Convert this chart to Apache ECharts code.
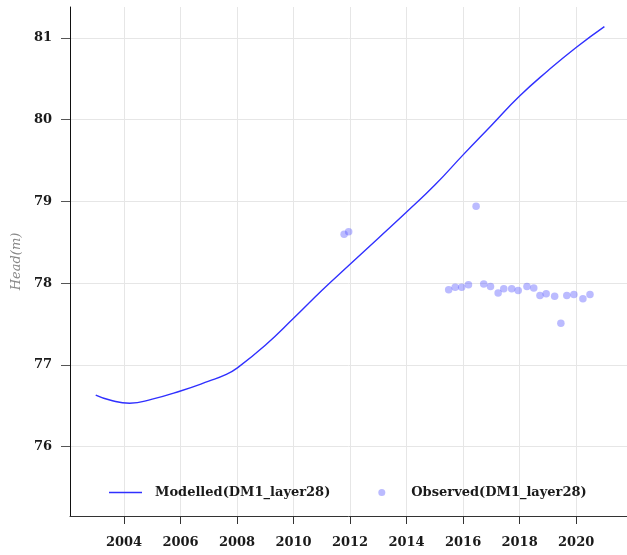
<!DOCTYPE html>
<html>
<head>
<meta charset="utf-8">
<script src="https://cdn.jsdelivr.net/npm/echarts@6/dist/echarts.min.js"></script>
<style>html,body{margin:0;padding:0;background:#fff}#c{width:627px;height:555px}</style>
</head>
<body>
<div id="c"></div>
<script>
// Modelled head (decimal year, m)
const modelYears = [2003.0, 2003.5, 2004.2, 2005.0, 2006.0, 2007.0, 2007.6, 2008.0, 2009.0, 2010.0, 2011.0, 2012.0, 2013.0, 2014.0, 2015.0, 2016.0, 2017.0, 2018.0, 2019.0, 2020.0, 2021.0];
const modelHead  = [76.63, 76.57, 76.53, 76.58, 76.68, 76.80, 76.88, 76.96, 77.24, 77.57, 77.91, 78.23, 78.55, 78.87, 79.20, 79.57, 79.93, 80.29, 80.60, 80.885, 81.14];
// Observed head
const obsYears = [2011.79, 2011.95, 2016.46, 2015.49, 2015.72, 2015.95, 2016.19, 2016.73, 2016.97, 2017.24, 2017.44, 2017.72, 2017.95, 2018.26, 2018.50, 2018.72, 2018.94, 2019.24, 2019.46, 2019.67, 2019.92, 2020.24, 2020.49];
const obsHead  = [78.60, 78.63, 78.94, 77.92, 77.95, 77.95, 77.98, 77.99, 77.96, 77.88, 77.93, 77.93, 77.91, 77.96, 77.94, 77.85, 77.87, 77.84, 77.51, 77.85, 77.86, 77.81, 77.86];
// Tick labels
const xTicks = [2004, 2006, 2008, 2010, 2012, 2014, 2016, 2018, 2020];
const yTicks = [76, 77, 78, 79, 80, 81];
const seriesNames = ['Modelled(DM1_layer28)', 'Observed(DM1_layer28)'];

const FONT = 'DejaVu Serif';
const chart = echarts.init(document.getElementById('c'), null, {renderer: 'canvas'});
chart.setOption({
  animation: false,
  backgroundColor: '#ffffff',
  grid: {left: 70, top: 7, right: 0, bottom: 39},
  xAxis: {
    type: 'value', min: 2002.09, max: 2021.8,
    axisLine: {show: true, onZero: false, lineStyle: {color: '#333', width: 1}},
    axisTick: {show: true, length: 8, customValues: xTicks, lineStyle: {color: '#333'}},
    axisLabel: {customValues: xTicks, margin: 20, color: '#1a1a1a', fontFamily: FONT, fontWeight: 'bold', fontSize: 13, formatter: v => String(v)},
    splitLine: {show: true, lineStyle: {color: '#e6e6e6', width: 1}}
  },
  yAxis: {
    type: 'value', min: 75.15, max: 81.38,
    name: 'Head(m)', nameLocation: 'middle', nameGap: 47,
    nameTextStyle: {color: '#888', fontFamily: FONT, fontStyle: 'italic', fontSize: 13},
    axisLine: {show: true, onZero: false, lineStyle: {color: '#111', width: 1}},
    axisTick: {show: true, length: 9, customValues: yTicks, lineStyle: {color: '#555'}},
    axisLabel: {customValues: yTicks, margin: 18, color: '#1a1a1a', fontFamily: FONT, fontWeight: 'bold', fontSize: 13, formatter: v => String(v)},
    splitLine: {show: true, lineStyle: {color: '#e6e6e6', width: 1}}
  },
  legend: {
    left: 109, top: 486, padding: 0, itemWidth: 33, itemHeight: 7, itemGap: 48,
    textStyle: {color: '#1a1a1a', fontFamily: FONT, fontWeight: 'bold', fontSize: 13, padding: [0, 0, 0, 8]},
    data: [
      {name: seriesNames[0], icon: 'path://M0,2.75 L33,2.75 L33,4.25 L0,4.25 Z', itemStyle: {color: '#3030ff'}},
      {name: seriesNames[1], icon: 'circle', itemStyle: {color: '#aaaaff'}}
    ]
  },
  series: [
    {
      name: seriesNames[0], type: 'line', smooth: 0.5, showSymbol: false,
      lineStyle: {color: '#3030ff', width: 1.4},
      itemStyle: {color: '#3030ff'},
      data: modelYears.map((x, i) => [x, modelHead[i]])
    },
    {
      name: seriesNames[1], type: 'scatter', symbolSize: 7.5,
      itemStyle: {color: 'rgba(85,85,255,0.5)'},
      data: obsYears.map((x, i) => [x, obsHead[i]])
    }
  ]
});
</script>
</body>
</html>
